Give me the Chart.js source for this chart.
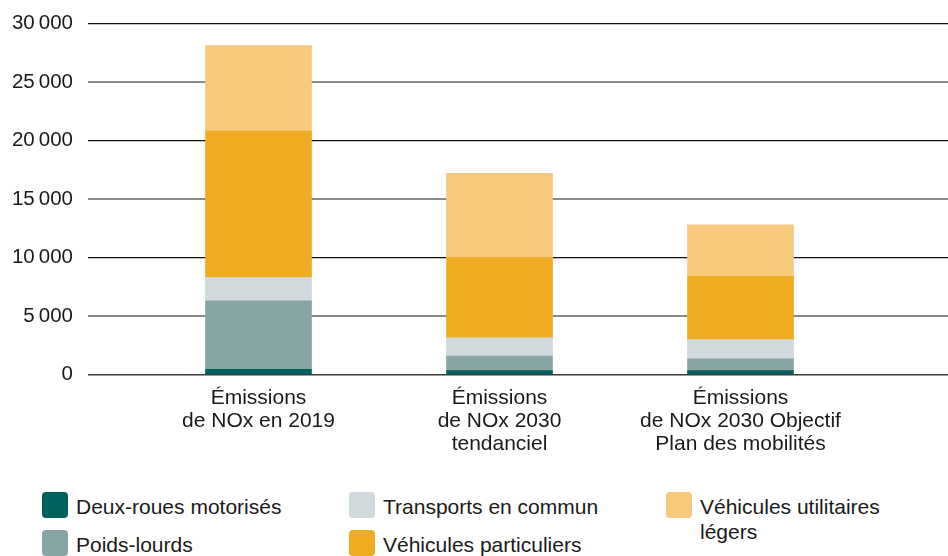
<!DOCTYPE html>
<html lang="fr">
<head>
<meta charset="utf-8">
<title>Émissions de NOx</title>
<script src="https://cdn.jsdelivr.net/npm/chart.js@4.4.1/dist/chart.umd.min.js"></script>
<style>
  html, body { margin: 0; padding: 0; background: #fff; }
  body { width: 948px; height: 556px; overflow: hidden; position: relative; font-family: "Liberation Sans", Arial, sans-serif; }
  #wrap { position: absolute; left: 0; top: -4px; width: 948px; height: 464px; }
  #legend { position: absolute; left: 0; top: 492px; width: 948px; height: 64px; }
  .item { position: absolute; display: flex; align-items: flex-start; font-size: 21px; color: #1a1a1a; line-height: 25px; }
  .item .sw { width: 26px; height: 26px; border-radius: 4px; flex: none; margin-right: 8px; }
  .item .tx { margin-top: 2px; }
</style>
</head>
<body>
<div id="wrap"><canvas id="chart"></canvas></div>
<div id="legend"></div>
<script>
// Catégories et valeurs (t de NOx)
const categories = [
    ['Émissions', 'de NOx en 2019'],
    ['Émissions', 'de NOx 2030', 'tendanciel'],
    ['Émissions', 'de NOx 2030 Objectif', 'Plan des mobilités']
];
const deuxRoues = [450, 350, 350];
const poidsLourds = [5850, 1250, 1000];
const transports = [2000, 1550, 1650];
const particuliers = [12500, 6850, 5400];
const utilitaires = [7300, 7200, 4400];

const yTicks = [0, 5000, 10000, 15000, 20000, 25000, 30000];

const series = [
    { label: 'Deux-roues motorisés', data: deuxRoues, color: '#00625c' },
    { label: 'Poids-lourds', data: poidsLourds, color: '#87a5a5' },
    { label: 'Transports en commun', data: transports, color: '#d0d9db' },
    { label: 'Véhicules particuliers', data: particuliers, color: '#efab21' },
    { label: 'Véhicules utilitaires légers', data: utilitaires, color: '#f6c97d' }
];

const fmt = v => v === 0 ? '0' : Math.floor(v / 1000) + '\u202F' + String(v % 1000).padStart(3, '0');

// lignes alternées noir / gris, ligne du zéro gris foncé
const gridColor = ctx => {
    const v = ctx.tick ? ctx.tick.value : 0;
    if (v === 0) return '#3a3a3a';
    return (v / 5000) % 2 === 0 ? '#111111' : '#8a8a8a';
};
const gridWidth = ctx => {
    const v = ctx.tick ? ctx.tick.value : 0;
    if (v === 0) return 1.5;
    return (v / 5000) % 2 === 0 ? 1.2 : 2;
};

const ctx = document.getElementById('chart');
new Chart(ctx, {
    type: 'bar',
    data: {
        labels: categories,
        datasets: series.map(s => ({
            label: s.label,
            data: s.data,
            backgroundColor: s.color,
            borderWidth: 0,
            barThickness: 106
        }))
    },
    options: {
        responsive: true,
        maintainAspectRatio: false,
        animation: false,
        layout: { padding: { top: 7, left: 0, right: 0, bottom: 0 } },
        plugins: { legend: { display: false }, tooltip: { enabled: false } },
        scales: {
            x: {
                stacked: true,
                grid: { display: false },
                border: { display: false },
                ticks: { color: '#1a1a1a', font: { family: '"Liberation Sans", Arial', size: 21, lineHeight: 1.1 }, padding: 4, maxRotation: 0 }
            },
            y: {
                stacked: true,
                min: 0,
                max: 30000,
                afterBuildTicks: s => { s.ticks = yTicks.map(v => ({ value: v })); },
                afterFit: s => { s.width = 138; },
                border: { display: false },
                grid: { color: gridColor, lineWidth: gridWidth, tickLength: 50 },
                ticks: { color: '#1a1a1a', font: { family: '"Liberation Sans", Arial', size: 20.5 }, padding: 15, callback: v => fmt(v) }
            },
            yRight: {
                position: 'right',
                min: 0,
                max: 30000,
                afterBuildTicks: s => { s.ticks = yTicks.map(v => ({ value: v })); },
                afterFit: s => { s.width = 87; },
                border: { display: false },
                grid: { color: gridColor, lineWidth: gridWidth, drawOnChartArea: false, tickLength: 87 },
                ticks: { display: false }
            }
        }
    }
});

// légende en trois colonnes
const legendPos = [
    { left: 42, top: 0 },
    { left: 42, top: 38 },
    { left: 349, top: 0 },
    { left: 349, top: 38 },
    { left: 666, top: 0 }
];
const legendText = ['Deux-roues motorisés', 'Poids-lourds', 'Transports en commun', 'Véhicules particuliers', 'Véhicules utilitaires<br>légers'];
const legend = document.getElementById('legend');
series.forEach((s, i) => {
    const el = document.createElement('div');
    el.className = 'item';
    el.style.left = legendPos[i].left + 'px';
    el.style.top = legendPos[i].top + 'px';
    el.innerHTML = '<span class="sw" style="background:' + s.color + '"></span><span class="tx">' + legendText[i] + '</span>';
    legend.appendChild(el);
});
</script>
</body>
</html>
